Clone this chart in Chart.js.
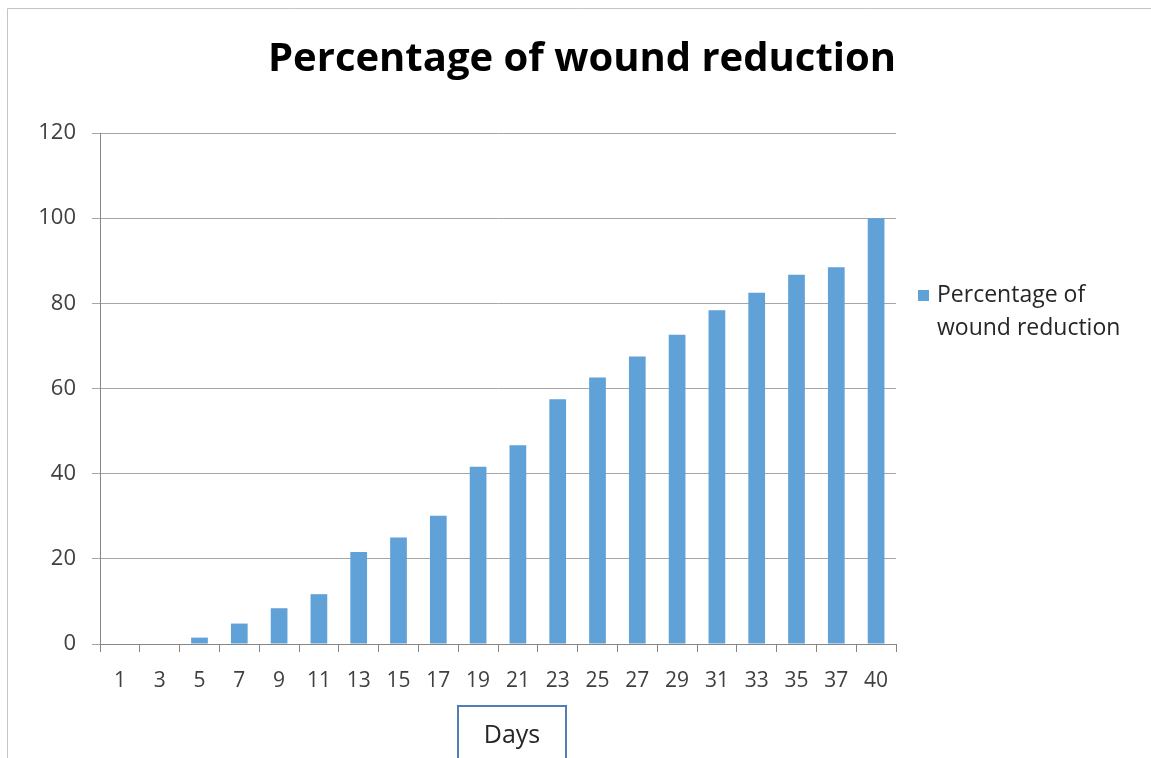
<!DOCTYPE html>
<html>
<head>
<meta charset="utf-8">
<script src="https://cdn.jsdelivr.net/npm/chart.js@4"></script>
<style>
  body { margin: 0; background: #fff; }
  #wrap { width: 1151px; height: 758px; position: relative; }
</style>
</head>
<body>
<div id="wrap"><canvas id="myChart" width="1151" height="758"></canvas></div>
<script>
const days = ["1", "3", "5", "7", "9", "11", "13", "15", "17", "19", "21", "23", "25", "27", "29", "31", "33", "35", "37", "40"];
const reduction = [0, 0, 1.5, 4.8, 8.4, 11.7, 21.6, 25.0, 30.1, 41.6, 46.7, 57.5, 62.6, 67.5, 72.6, 78.4, 82.5, 86.7, 88.5, 100];
const yTicks = [0, 20, 40, 60, 80, 100, 120];

const titleText = 'Percentage of wound reduction';
const seriesName = 'Percentage of wound reduction';
const xTitle = 'Days';
const barColor = '#60a1d8';
const font = "'Open Sans', 'Liberation Sans', sans-serif";

// frame, title, legend and the boxed axis title
const extras = {
    id: 'extras',
    beforeDraw(chart) {
        const c = chart.ctx;
        c.save();
        c.fillStyle = '#fff';
        c.fillRect(0, 0, chart.width, chart.height);
        c.strokeStyle = '#c4c4c4';
        c.lineWidth = 1;
        c.beginPath();
        c.moveTo(7.5, chart.height);
        c.lineTo(7.5, 8.5);
        c.lineTo(chart.width, 8.5);
        c.stroke();
        c.restore();
    },
    afterDraw(chart) {
        const c = chart.ctx;
        const area = chart.chartArea;
        c.save();
        // title
        c.fillStyle = '#000';
        c.font = "bold 40px " + font;
        c.textAlign = 'center';
        c.textBaseline = 'alphabetic';
        c.fillText(titleText, 582, 71);
        // legend
        const lx = area.right + 22, ly = 290;
        c.fillStyle = barColor;
        c.fillRect(lx, ly, 11, 11);
        c.fillStyle = '#262626';
        c.font = "23px " + font;
        c.textBaseline = 'middle';
        c.textAlign = 'left';
        const words = chart.data.datasets[0].label.split(' ');
        c.fillText(words.slice(0, 2).join(' '), lx + 19, ly + 5);
        c.fillText(words.slice(2).join(' '), lx + 19, ly + 38);
        // x axis title in a box
        const cx = (area.left + area.right) / 2 + 14;
        c.strokeStyle = '#4f7fb5';
        c.lineWidth = 2;
        c.strokeRect(cx - 54, 706, 108, 70);
        c.fillStyle = '#262626';
        c.font = "25px " + font;
        c.textAlign = 'center';
        c.fillText(xTitle, cx, 736);
        c.restore();
    }
};

const ctx = document.getElementById('myChart').getContext('2d');
const chart = new Chart(ctx, {
    type: 'bar',
    data: {
        labels: days,
        datasets: [{
            label: seriesName,
            data: reduction,
            backgroundColor: barColor,
            categoryPercentage: 1,
            barPercentage: 0.42
        }]
    },
    options: {
        responsive: false,
        animation: false,
        layout: { padding: { left: 10, right: 255, top: 133, bottom: 0 } },
        plugins: {
            legend: { display: false },
            tooltip: { enabled: false },
            title: { display: false }
        },
        scales: {
            x: {
                afterFit(scale) { scale.height = 114; },
                grid: { drawOnChartArea: false, drawTicks: true, tickLength: 8, color: '#868686' },
                border: { color: '#868686' },
                ticks: { color: '#404040', font: { family: font, size: 21 }, padding: 16, maxRotation: 0, autoSkip: false }
            },
            y: {
                min: 0,
                max: 120,
                afterBuildTicks(scale) { scale.ticks = yTicks.map(v => ({ value: v })); },
                afterFit(scale) { scale.width = 90; },
                grid: { color: '#a6a6a6', tickLength: 8 },
                border: { color: '#868686' },
                ticks: { color: '#404040', font: { family: font, size: 22 }, padding: 16 }
            }
        }
    },
    plugins: [extras]
});
</script>
</body>
</html>
